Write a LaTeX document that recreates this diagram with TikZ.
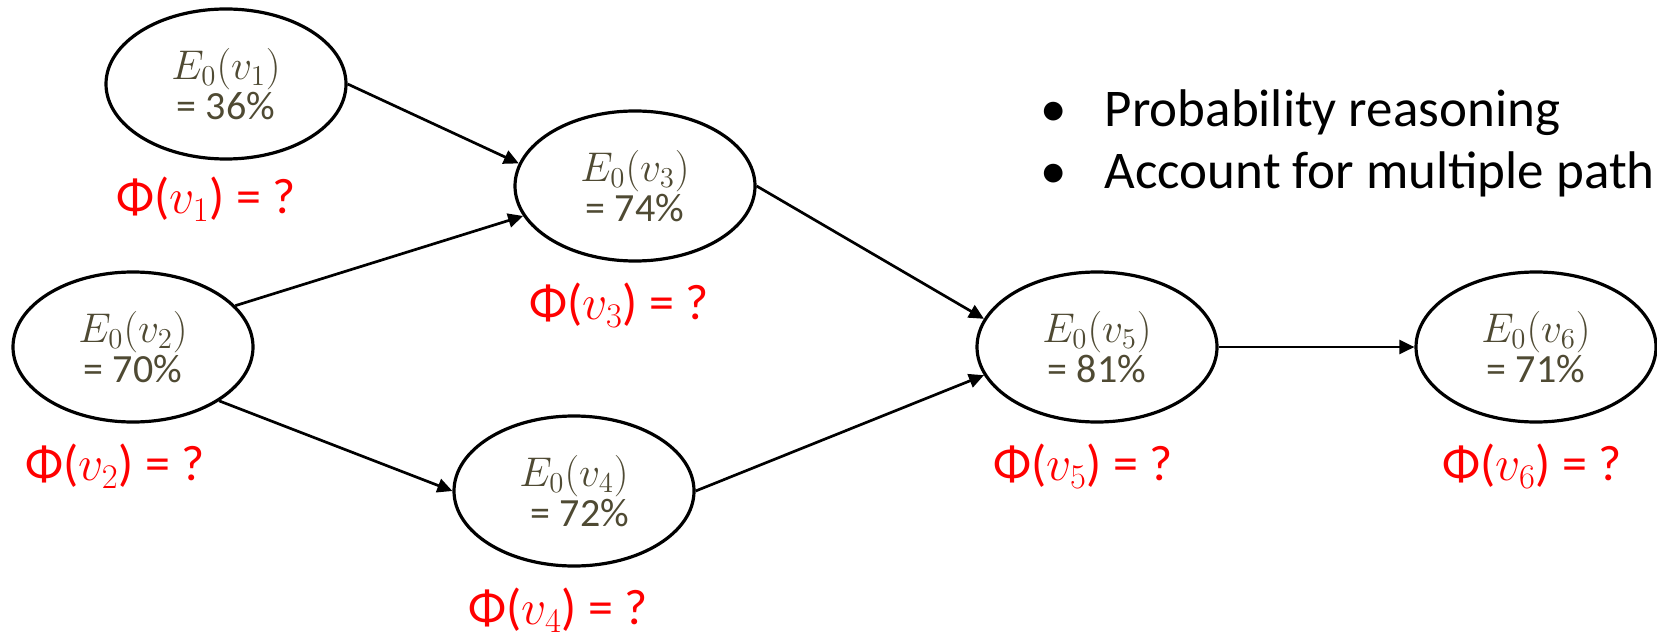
\documentclass[tikz,border=0pt]{standalone}
\usepackage{fontspec}
\setmainfont{Carlito}
\usepackage{xcolor}
\usetikzlibrary{arrows.meta,positioning,shapes.geometric}

\definecolor{nodetext}{HTML}{4F4A33}
\newcommand{\Ezero}[1]{{\fontsize{21}{18}\selectfont$E_0(v_{#1})$}}
\newcommand{\pct}[1]{{\fontsize{20}{18}\selectfont= #1\%}}

\begin{document}
\begin{tikzpicture}[
  x=0.5pt,y=-0.5pt,
  state/.style={draw,ellipse,line width=1.6pt,minimum width=120pt,minimum height=75pt,inner sep=0pt,
    align=center,text=nodetext,font=\fontsize{18}{18}\selectfont},
  phi/.style={text=red,inner sep=0pt,font=\fontsize{25}{26}\selectfont},
  arrow/.style={-{Triangle[length=7.5pt,width=7pt]},line width=1.35pt},
  node distance=10pt
]
\useasboundingbox (0,0) rectangle (1657,636);

\node[state] (v1) at (226,84)  {\Ezero{1}\\\pct{36}};
\node[state] (v2) at (133,347) {\Ezero{2}\\\pct{70}};
\node[state] (v3) at (635,186) {\Ezero{3}\\\pct{74}};
\node[state] (v4) at (574,491) {\Ezero{4}\\\hspace{6pt}\pct{72}};
\node[state] (v5) at (1097,347) {\Ezero{5}\\\pct{81}};
\node[state] (v6) at (1536,347) {\Ezero{6}\\\pct{71}};

\node[phi,below=8pt of v1,xshift=-10pt] (phi1) {Φ($v_1$) = ?};
\node[phi,below=of v2,xshift=-9pt] (phi2) {Φ($v_2$) = ?};
\node[phi,below=of v3,xshift=-8pt] (phi3) {Φ($v_3$) = ?};
\node[phi,below=of v4,xshift=-8pt] (phi4) {Φ($v_4$) = ?};
\node[phi,below=of v5,xshift=-7pt] (phi5) {Φ($v_5$) = ?};
\node[phi,below=of v6,xshift=-2pt] (phi6) {Φ($v_6$) = ?};

% bullet points
\node[anchor=base west,align=left,inner sep=0pt,font=\fontsize{26.5}{31}\selectfont] (notes) at (1040,189)
  {\textbullet\hspace{19pt}Probability reasoning\\\textbullet\hspace{19pt}Account for multiple path};

\draw[arrow] (v1.east) -- (v3.169);
\draw[arrow] (v2.22) -- (v3.195);
\draw[arrow] (v2.-32) -- (v4.west);
\draw[arrow] (v3.east) -- (v5.166);
\draw[arrow] (v4.east) -- (v5.194);
\draw[arrow] (v5) -- (v6);
\end{tikzpicture}
\end{document}
